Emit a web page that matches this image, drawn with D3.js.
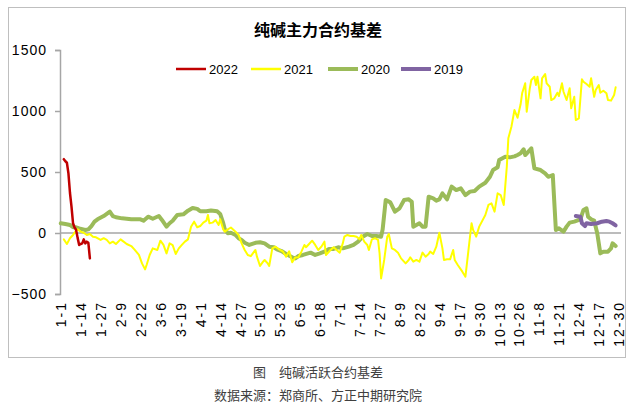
<!DOCTYPE html>
<html><head><meta charset="utf-8">
<script src="https://cdn.jsdelivr.net/npm/d3@7"></script>
<style>
html,body{margin:0;padding:0;background:#fff;}
svg{display:block;}
</style></head>
<body>
<svg id="c" width="636" height="407"></svg>
<script>
// ---------- data ----------
const title = "纯碱主力合约基差";
const caption1 = "图　纯碱活跃合约基差";
const caption2 = "数据来源：郑商所、方正中期研究院";
const seriesNames = ["2022", "2021", "2020", "2019"];
const seriesColors = ["#C00000", "#FFFF00", "#9BBB59", "#8064A2"];
const yTicks = [-500, 0, 500, 1000, 1500];
const tickLabels = ["1-1","1-14","1-27","2-9","2-22","3-6","3-19","4-1","4-14","4-27","5-10","5-23","6-5","6-18","7-1","7-14","7-27","8-9","8-22","9-4","9-17","9-30","10-13","10-26","11-8","11-21","12-4","12-17","12-30"];

// [day-of-year index (leap-year calendar, 0 = 1-1), basis value]
const s2022 = [[2,605],[3,588],[4,576],[5,489],[6,330],[7,216],[8,80],[9,45],[10,25],[11,-40],[12,-98],[13,-90],[14,-85],[15,-52],[16,-85],[17,-71],[18,-80],[19,-208]];

const s2021 = [[2,-52],[4,-90],[6,-43],[8,-16],[10,19],[11,30],[13,11],[15,2],[17,-16],[19,-8],[21,-30],[23,-35],[26,-57],[28,-43],[30,-57],[32,-85],[34,-71],[36,-90],[39,-52],[41,-71],[43,-90],[46,-107],[48,-134],[51,-180],[53,-249],[55,-298],[56,-262],[58,-180],[60,-126],[63,-139],[65,-63],[67,-98],[69,-167],[71,-85],[73,-100],[75,-172],[77,-126],[79,-98],[81,-71],[83,-52],[85,52],[87,93],[89,47],[91,57],[93,85],[95,101],[96,148],[97,80],[99,85],[101,107],[103,66],[104,112],[106,30],[107,11],[109,30],[111,45],[114,11],[116,-16],[118,-85],[120,-139],[122,-180],[124,-190],[127,-139],[128,-194],[130,-270],[132,-235],[133,-221],[135,-249],[136,-270],[138,-126],[140,-112],[143,-139],[145,-153],[147,-194],[149,-150],[151,-240],[153,-200],[155,-199],[157,-153],[159,-98],[160,-117],[162,-90],[164,-63],[166,-98],[168,-139],[170,-112],[172,-71],[173,-180],[176,-139],[178,-117],[180,-139],[182,-161],[184,-85],[185,-30],[187,-16],[189,-25],[191,-25],[193,-30],[195,-52],[196,-16],[198,-71],[200,-98],[201,-139],[203,-52],[205,-43],[207,-57],[208,-167],[209,-372],[211,-221],[213,-30],[214,-8],[216,-126],[218,-139],[220,-161],[222,-208],[225,-249],[227,-221],[228,-199],[230,-235],[232,-221],[234,-235],[236,-161],[238,-194],[240,-172],[241,-153],[243,-172],[245,-112],[247,2],[249,-126],[250,-221],[252,-216],[254,-216],[256,-139],[257,-221],[259,-262],[262,-317],[264,-358],[266,-139],[268,80],[269,25],[271,-30],[273,52],[277,148],[279,230],[281,243],[283,175],[285,325],[287,311],[289,230],[291,543],[292,776],[294,871],[296,1008],[298,945],[300,1055],[301,1145],[303,1227],[304,994],[306,1186],[307,1254],[309,1281],[310,1213],[311,1281],[313,1104],[314,1268],[316,1303],[317,1227],[319,1199],[320,1090],[322,1104],[324,1150],[325,1123],[327,1227],[328,1158],[330,1090],[332,1186],[333,1022],[335,1117],[336,926],[338,940],[340,1260],[341,1240],[343,1221],[345,1199],[346,1268],[348,1117],[349,1172],[351,1213],[352,1150],[354,1166],[356,1145],[357,1090],[359,1085],[361,1131],[362,1194]];

const s2020 = [[0,80],[3,74],[6,66],[8,47],[10,47],[12,38],[16,25],[18,30],[20,57],[22,93],[24,112],[28,139],[32,175],[34,139],[36,129],[40,120],[43,117],[46,112],[52,112],[54,101],[57,134],[60,117],[64,139],[66,107],[69,52],[71,80],[73,100],[76,148],[80,153],[83,183],[86,205],[89,198],[91,178],[95,178],[98,185],[102,178],[104,156],[106,80],[107,30],[109,-2],[111,2],[114,-16],[116,-43],[118,-57],[120,-80],[123,-98],[127,-80],[130,-76],[133,-85],[136,-112],[139,-117],[141,-134],[144,-148],[147,-172],[151,-199],[153,-208],[155,-189],[158,-180],[163,-161],[166,-180],[169,-167],[172,-153],[175,-131],[178,-131],[181,-117],[184,-126],[188,-112],[191,-98],[194,-71],[197,-30],[200,-8],[203,-25],[206,-25],[209,-30],[210,30],[212,270],[215,251],[218,175],[221,202],[224,270],[227,276],[228,265],[229,257],[230,52],[232,66],[234,80],[236,52],[238,52],[240,298],[243,284],[245,265],[247,276],[249,325],[252,276],[255,380],[258,352],[261,366],[264,311],[267,339],[270,344],[273,380],[277,412],[280,461],[282,516],[285,539],[286,598],[290,625],[293,620],[296,628],[298,639],[300,653],[302,686],[303,639],[306,680],[307,694],[309,530],[313,516],[316,489],[318,461],[321,475],[323,25],[325,38],[328,11],[330,52],[332,85],[335,93],[339,112],[341,189],[343,202],[344,134],[346,112],[348,101],[350,-2],[352,-167],[354,-153],[357,-153],[359,-126],[360,-85],[362,-107]];

const s2019 = [[336,139],[339,134],[340,80],[342,57],[343,80],[346,74],[350,80],[353,93],[356,98],[358,93],[360,80],[362,63]];

// ---------- chart ----------
const svg = d3.select("#c");
const FONT = "'Liberation Sans', Arial, sans-serif";

// category axis: every day of a leap-year calendar
const days = [];
for (let i = 0; i < 366; i++) {
  const dt = new Date(2020, 0, 1 + i);
  days.push((dt.getMonth() + 1) + "-" + dt.getDate());
}

const x = d3.scalePoint().domain(days).range([60, 621]).padding(0.5);
const y = d3.scaleLinear().domain([-500, 1500]).range([294, 50]);

// outer border
svg.append("rect").attr("x", 8.5).attr("y", 7.5).attr("width", 617).attr("height", 350)
  .attr("fill", "none").attr("stroke", "#BFBFBF").attr("stroke-width", 1);

// title
svg.append("text").attr("x", 318).attr("y", 36).attr("text-anchor", "middle")
  .attr("font-family", "'Noto Sans CJK SC', sans-serif").attr("font-weight", "bold")
  .attr("font-size", 16).attr("fill", "#000").text(title);

// y axis
const yAxis = d3.axisLeft(y).tickValues(yTicks).tickSize(5).tickPadding(8).tickFormat(d3.format("d"));
const gy = svg.append("g").attr("transform", "translate(60,0)").call(yAxis);
gy.select(".domain").attr("stroke", "#A6A6A6").attr("stroke-width", 1.5);
gy.selectAll(".tick line").attr("stroke", "#A6A6A6").attr("stroke-width", 1.5);
gy.selectAll(".tick text").attr("font-family", FONT).attr("font-size", 14)
  .attr("letter-spacing", "1px").attr("fill", "#000");

// zero line (category axis)
svg.append("line").attr("x1", 60).attr("x2", 621).attr("y1", y(0)).attr("y2", y(0))
  .attr("stroke", "#A6A6A6").attr("stroke-width", 1.5);

// x labels (low position)
const xAxis = d3.axisBottom(x).tickValues(tickLabels).tickSize(0).tickPadding(0);
const gx = svg.append("g").attr("transform", "translate(0,301)").call(xAxis);
gx.select(".domain").remove();
gx.selectAll(".tick text")
  .attr("font-family", FONT).attr("font-size", 14).attr("letter-spacing", "2px").attr("fill", "#000")
  .attr("text-anchor", "end").attr("transform", "rotate(-90)")
  .attr("x", 0).attr("y", 0).attr("dy", "0.35em");

// lines
const line = d3.line().x(d => x(days[d[0]])).y(d => y(d[1]));
const plot = [
  {data: s2020, color: seriesColors[2], w: 4},
  {data: s2021, color: seriesColors[1], w: 2},
  {data: s2019, color: seriesColors[3], w: 4},
  {data: s2022, color: seriesColors[0], w: 2.5}
];
plot.forEach(p => {
  svg.append("path").datum(p.data).attr("d", line).attr("fill", "none")
    .attr("stroke", p.color).attr("stroke-width", p.w)
    .attr("stroke-linejoin", "round").attr("stroke-linecap", "round");
});

// legend
const legendX = [176, 251, 328, 401];
const legendW = [2.5, 2.5, 4, 4];
seriesNames.forEach((n, i) => {
  const g = svg.append("g").attr("transform", `translate(${legendX[i]},69)`);
  g.append("line").attr("x1", 0).attr("x2", 30).attr("y1", 0).attr("y2", 0)
    .attr("stroke", seriesColors[i]).attr("stroke-width", legendW[i]);
  g.append("text").attr("x", 33).attr("y", 0).attr("dy", "0.35em")
    .attr("font-family", FONT).attr("font-size", 13).attr("fill", "#000").text(n);
});

// captions
svg.append("text").attr("x", 318).attr("y", 377).attr("text-anchor", "middle")
  .attr("font-family", "'Noto Sans CJK SC', sans-serif").attr("font-size", 13).attr("fill", "#404040")
  .text(caption1);
svg.append("text").attr("x", 318).attr("y", 400).attr("text-anchor", "middle")
  .attr("font-family", "'Noto Sans CJK SC', sans-serif").attr("font-size", 13).attr("fill", "#404040")
  .text(caption2);
</script>
</body></html>
